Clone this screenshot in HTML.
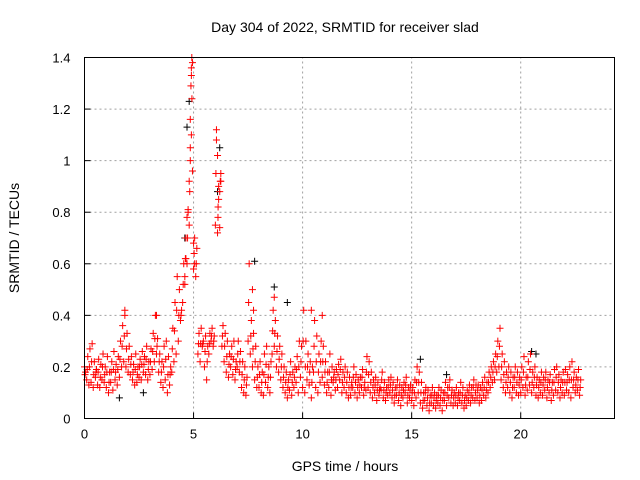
<!DOCTYPE html>
<html><head><meta charset="utf-8"><style>
body{margin:0;background:#fff;}
svg{display:block;font-family:"Liberation Sans",sans-serif;}
</style></head><body>
<svg id="chart" width="640" height="480" viewBox="0 0 640 480">
<rect width="640" height="480" fill="#fff"/>
<text x="345" y="32" text-anchor="middle" font-size="14">Day 304 of 2022, SRMTID for receiver slad</text>
<text x="345" y="471" text-anchor="middle" font-size="14">GPS time / hours</text>
<text transform="translate(19,238) rotate(-90)" text-anchor="middle" font-size="14">SRMTID / TECUs</text>
<g id="grid"></g>
<g id="ticks"></g>
<g id="black" stroke="#000" stroke-width="1"></g>
<g id="red" stroke="#f00" stroke-width="1"></g>
<rect x="84.5" y="57.5" width="530" height="361" fill="none" stroke="#000"/>
</svg>
<script>
const xTicks=[0,5,10,15,20];
const yTicks=[0,0.2,0.4,0.6,0.8,1,1.2,1.4];
const yTickLabels=["0","0.2","0.4","0.6","0.8","1","1.2","1.4"];
const redLow=[0.20,0.15,0.13,0.14,0.12,0.16,0.13,0.12,0.15,0.14,
0.12,0.10,0.14,0.11,0.15,0.13,0.16,0.20,0.22,0.20,
0.18,0.17,0.15,0.13,0.14,0.16,0.15,0.18,0.17,0.15,
0.17,0.19,0.22,0.25,0.18,0.14,0.12,0.15,0.10,0.13,
0.18,0.22,0.25,0.30,0.38,0.45,0.52,0.60,0.75,1.10,
0.58,0.55,0.25,0.22,0.28,0.20,0.15,0.25,0.30,0.28,
0.75,0.72,0.88,0.28,0.22,0.18,0.16,0.20,0.17,0.15,
0.20,0.18,0.12,0.10,0.09,0.30,0.25,0.20,0.15,0.12,
0.12,0.10,0.09,0.14,0.12,0.10,0.25,0.28,0.20,0.18,
0.15,0.12,0.10,0.08,0.11,0.09,0.12,0.14,0.10,0.16,
0.12,0.10,0.15,0.13,0.08,0.18,0.12,0.10,0.14,0.16,
0.13,0.10,0.12,0.09,0.14,0.11,0.12,0.15,0.10,0.12,
0.10,0.08,0.09,0.12,0.10,0.08,0.10,0.12,0.09,0.11,
0.12,0.10,0.08,0.10,0.07,0.09,0.11,0.08,0.07,0.09,
0.10,0.08,0.06,0.09,0.07,0.05,0.08,0.10,0.06,0.08,
0.07,0.05,0.08,0.10,0.06,0.04,0.07,0.05,0.03,0.06,
0.05,0.04,0.06,0.05,0.03,0.07,0.05,0.08,0.06,0.05,
0.06,0.05,0.07,0.06,0.04,0.05,0.07,0.06,0.08,0.07,
0.08,0.06,0.07,0.09,0.08,0.10,0.12,0.14,0.15,0.18,
0.20,0.15,0.12,0.10,0.12,0.10,0.08,0.12,0.10,0.09,
0.10,0.12,0.09,0.11,0.13,0.10,0.12,0.09,0.08,0.10,
0.09,0.11,0.08,0.10,0.07,0.09,0.11,0.10,0.08,0.10,
0.09,0.11,0.10,0.08,0.12,0.10,0.11,0.09];
const redMid=[0.17,0.19,0.20,0.22,0.17,0.18,0.18,0.16,0.20,0.17,
0.18,0.14,0.18,0.19,0.18,0.19,0.23,0.28,0.32,0.27,
0.23,0.21,0.18,0.19,0.17,0.20,0.21,0.21,0.23,0.19,
0.22,0.26,0.31,0.28,0.22,0.18,0.20,0.23,0.17,0.17,
0.27,0.34,0.42,0.40,0.40,0.52,0.62,0.70,0.88,1.24,
0.64,0.60,0.29,0.29,0.29,0.26,0.22,0.29,0.32,0.30,
0.95,0.82,0.92,0.32,0.28,0.24,0.21,0.24,0.23,0.19,
0.25,0.22,0.17,0.15,0.13,0.45,0.32,0.27,0.22,0.16,
0.17,0.14,0.17,0.21,0.16,0.16,0.34,0.33,0.26,0.23,
0.20,0.16,0.14,0.12,0.17,0.14,0.16,0.19,0.20,0.22,
0.30,0.20,0.20,0.18,0.14,0.28,0.22,0.18,0.22,0.22,
0.18,0.14,0.18,0.15,0.16,0.15,0.17,0.19,0.14,0.16,
0.14,0.12,0.12,0.16,0.14,0.12,0.13,0.16,0.12,0.18,
0.17,0.14,0.12,0.13,0.11,0.11,0.15,0.11,0.10,0.12,
0.13,0.11,0.09,0.12,0.10,0.09,0.11,0.13,0.09,0.11,
0.10,0.10,0.14,0.14,0.10,0.07,0.10,0.08,0.06,0.09,
0.08,0.07,0.09,0.08,0.07,0.10,0.09,0.12,0.09,0.08,
0.09,0.08,0.10,0.09,0.07,0.08,0.10,0.09,0.12,0.10,
0.11,0.09,0.11,0.12,0.11,0.14,0.16,0.18,0.20,0.24,
0.28,0.20,0.17,0.14,0.16,0.14,0.12,0.16,0.14,0.13,
0.15,0.18,0.13,0.16,0.19,0.14,0.16,0.13,0.12,0.14,
0.13,0.15,0.12,0.14,0.11,0.14,0.16,0.14,0.12,0.14,
0.14,0.14,0.15,0.15,0.15,0.13,0.15,0.12];
const redHigh=[0.18,0.24,0.27,0.29,0.22,0.19,0.23,0.21,0.25,0.20,
0.24,0.18,0.22,0.26,0.21,0.24,0.30,0.36,0.40,0.33,
0.28,0.24,0.21,0.25,0.20,0.23,0.26,0.24,0.28,0.22,
0.27,0.33,0.40,0.31,0.25,0.22,0.28,0.30,0.24,0.20,
0.35,0.45,0.55,0.50,0.42,0.60,0.70,0.80,1.00,1.38,
0.70,0.66,0.33,0.35,0.30,0.32,0.28,0.33,0.35,0.32,
1.12,0.90,0.95,0.36,0.33,0.30,0.25,0.28,0.30,0.22,
0.30,0.26,0.22,0.20,0.16,0.60,0.38,0.33,0.28,0.20,
0.22,0.18,0.25,0.28,0.20,0.22,0.42,0.38,0.32,0.28,
0.25,0.20,0.18,0.15,0.22,0.18,0.20,0.24,0.30,0.28,
0.42,0.30,0.25,0.22,0.20,0.38,0.32,0.25,0.30,0.28,
0.22,0.18,0.25,0.20,0.18,0.19,0.21,0.23,0.18,0.20,
0.18,0.16,0.14,0.20,0.17,0.15,0.16,0.19,0.14,0.24,
0.22,0.18,0.15,0.16,0.14,0.12,0.18,0.14,0.12,0.15,
0.16,0.14,0.12,0.15,0.13,0.12,0.14,0.16,0.12,0.13,
0.12,0.15,0.20,0.18,0.14,0.10,0.12,0.11,0.09,0.12,
0.10,0.09,0.12,0.11,0.10,0.14,0.12,0.15,0.11,0.10,
0.12,0.10,0.14,0.12,0.09,0.11,0.13,0.12,0.15,0.13,
0.13,0.12,0.14,0.16,0.14,0.18,0.20,0.22,0.25,0.30,
0.35,0.25,0.22,0.18,0.20,0.18,0.16,0.20,0.18,0.16,
0.20,0.24,0.16,0.22,0.25,0.18,0.20,0.16,0.15,0.18,
0.16,0.18,0.15,0.17,0.14,0.19,0.20,0.17,0.15,0.18,
0.19,0.17,0.20,0.22,0.18,0.16,0.19,0.15];
const peakTimes=[4.6,4.65,4.7,4.75,4.8,4.85,4.85,4.88,4.9,4.9,4.92,4.95,5.0,5.05,6.05,6.1,6.12,6.15,6.2,6.25,7.7,7.75,1.85,3.3,8.7,10.4,10.9];
const peakValues=[0.55,0.62,0.78,0.81,0.92,1.05,1.16,1.29,1.33,1.36,1.40,0.96,0.68,0.60,1.08,1.02,0.78,0.85,0.74,0.92,0.50,0.42,0.42,0.40,0.47,0.42,0.40];
const blackTimes=[1.6,2.7,4.6,4.7,4.8,6.1,6.2,7.8,8.7,9.3,15.4,16.6,20.5,20.7];
const blackValues=[0.08,0.10,0.70,1.13,1.23,0.88,1.05,0.61,0.51,0.45,0.23,0.17,0.26,0.25];
const timeStep=0.1;

const NS="http://www.w3.org/2000/svg";
const X0=84.5,X1=614.5,Y0=418.5,Y1=57.5,XMAX=24.3,YMAX=1.4;
function xs(v){return X0+(X1-X0)*v/XMAX;}
function ys(v){return Y0-(Y0-Y1)*v/YMAX;}
function mk(tag,attrs,parent){const e=document.createElementNS(NS,tag);for(const k in attrs)e.setAttribute(k,attrs[k]);parent.appendChild(e);return e;}
const grid=document.getElementById('grid'),ticks=document.getElementById('ticks');
xTicks.forEach((t,i)=>{
  const x=xs(t);
  if(t>0){const g=mk('line',{x1:x,x2:x,y1:Y0,y2:Y1,stroke:'#a0a0a0','stroke-dasharray':'2,3'},grid);
  
  }
  const l=mk('line',{x1:x,x2:x,y1:Y0,y2:Y0-6,stroke:'#000'},ticks);
  
  
  const tx=mk('text',{x:x,y:Y0+20,'text-anchor':'middle','font-size':13},ticks);tx.textContent=String(t);
  
  
});
yTicks.forEach((t,i)=>{
  const y=ys(t);
  if(t>0&&t<YMAX){const g=mk('line',{x1:X0,x2:X1,y1:y,y2:y,stroke:'#a0a0a0','stroke-dasharray':'2,3'},grid);
  
  }
  const l=mk('line',{x1:X0,x2:X0+6,y1:y,y2:y,stroke:'#000'},ticks);
  
  
  const tx=mk('text',{x:X0-14,y:y+5,'text-anchor':'end','font-size':13},ticks);tx.textContent=yTickLabels[i];
  
  
});
function plus(parent,t,v,name){
  const x=xs(t),y=ys(v);
  const p=mk('path',{d:`M${x-3.5},${y}H${x+3.5}M${x},${y-3.5}V${y+3.5}`},parent);
  
  
}
const blk=document.getElementById('black'),red=document.getElementById('red');
blackTimes.forEach((t,i)=>plus(blk,t,blackValues[i],'black-point'));
redLow.forEach((v,i)=>plus(red,i*timeStep,v,'red-point'));
redMid.forEach((v,i)=>plus(red,i*timeStep+0.025,v,'red-point'));
redHigh.forEach((v,i)=>plus(red,i*timeStep+0.05,v,'red-point'));
peakTimes.forEach((t,i)=>plus(red,t,peakValues[i],'red-point'));
</script>
</body></html>
